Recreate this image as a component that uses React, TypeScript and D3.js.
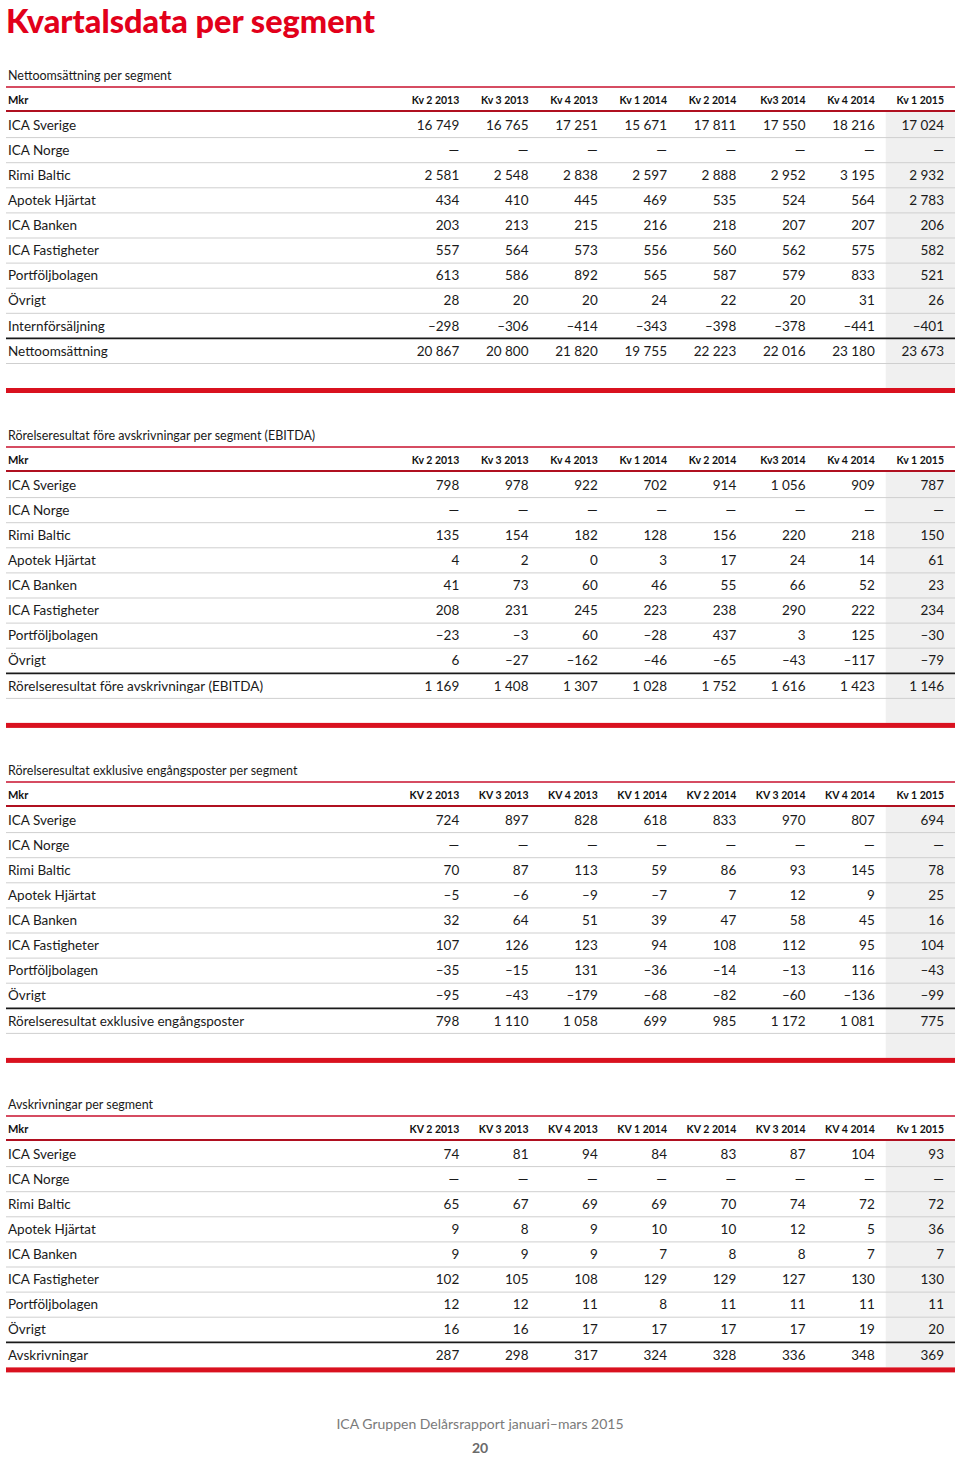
import React from "react";
import * as d3 from "d3";

const quartersA = ["Kv 2 2013", "Kv 3 2013", "Kv 4 2013", "Kv 1 2014", "Kv 2 2014", "Kv3 2014", "Kv 4 2014", "Kv 1 2015"];
const quartersB = ["KV 2 2013", "KV 3 2013", "KV 4 2013", "KV 1 2014", "KV 2 2014", "KV 3 2014", "KV 4 2014", "Kv 1 2015"];

const segments = ["ICA Sverige", "ICA Norge", "Rimi Baltic", "Apotek Hjärtat", "ICA Banken", "ICA Fastigheter", "Portföljbolagen", "Övrigt"];

type Vals = (number | null)[];
const none: Vals = [null, null, null, null, null, null, null, null];

// Nettoomsättning
const salesRows: Vals[] = [
  [16749, 16765, 17251, 15671, 17811, 17550, 18216, 17024],
  none,
  [2581, 2548, 2838, 2597, 2888, 2952, 3195, 2932],
  [434, 410, 445, 469, 535, 524, 564, 2783],
  [203, 213, 215, 216, 218, 207, 207, 206],
  [557, 564, 573, 556, 560, 562, 575, 582],
  [613, 586, 892, 565, 587, 579, 833, 521],
  [28, 20, 20, 24, 22, 20, 31, 26],
  [-298, -306, -414, -343, -398, -378, -441, -401],
];
const salesTotal = [20867, 20800, 21820, 19755, 22223, 22016, 23180, 23673];

// EBITDA
const ebitdaRows: Vals[] = [
  [798, 978, 922, 702, 914, 1056, 909, 787],
  none,
  [135, 154, 182, 128, 156, 220, 218, 150],
  [4, 2, 0, 3, 17, 24, 14, 61],
  [41, 73, 60, 46, 55, 66, 52, 23],
  [208, 231, 245, 223, 238, 290, 222, 234],
  [-23, -3, 60, -28, 437, 3, 125, -30],
  [6, -27, -162, -46, -65, -43, -117, -79],
];
const ebitdaTotal = [1169, 1408, 1307, 1028, 1752, 1616, 1423, 1146];

// Rörelseresultat exkl. engångsposter
const ebitRows: Vals[] = [
  [724, 897, 828, 618, 833, 970, 807, 694],
  none,
  [70, 87, 113, 59, 86, 93, 145, 78],
  [-5, -6, -9, -7, 7, 12, 9, 25],
  [32, 64, 51, 39, 47, 58, 45, 16],
  [107, 126, 123, 94, 108, 112, 95, 104],
  [-35, -15, 131, -36, -14, -13, 116, -43],
  [-95, -43, -179, -68, -82, -60, -136, -99],
];
const ebitTotal = [798, 1110, 1058, 699, 985, 1172, 1081, 775];

// Avskrivningar
const deprRows: Vals[] = [
  [74, 81, 94, 84, 83, 87, 104, 93],
  none,
  [65, 67, 69, 69, 70, 74, 72, 72],
  [9, 8, 9, 10, 10, 12, 5, 36],
  [9, 9, 9, 7, 8, 8, 7, 7],
  [102, 105, 108, 129, 129, 127, 130, 130],
  [12, 12, 11, 8, 11, 11, 11, 11],
  [16, 16, 17, 17, 17, 17, 19, 20],
];
const deprTotal = [287, 298, 317, 324, 328, 336, 348, 369];

const RED = "#d9111f";
const FONT = "Lato, 'Open Sans', sans-serif";

const fmt = d3
  .formatLocale({ decimal: ",", thousands: "\u00a0", grouping: [3], currency: ["", ""], minus: "\u2013" })
  .format(",d");

const ROW_H = 25.1;

const Table = ({ top, title, headers, labels, rows, totalLabel, total, tail }) => {
  const allLabels = [...labels, totalLabel];
  const allRows = [...rows, total];
  const x = d3.scaleBand().domain(headers).range([401, 955]);
  const y = d3
    .scaleBand()
    .domain(allLabels)
    .range([top + 36.5, top + 36.5 + ROW_H * allLabels.length]);
  const lastBottom = y(totalLabel) + ROW_H;
  const barTop = lastBottom + tail;
  const lastQ = headers[headers.length - 1];

  return (
    <g fontFamily={FONT}>
      <rect x={x(lastQ)} y={top + 35} width={x.bandwidth()} height={barTop - top - 35} fill="#f0f0f0" />
      <text x={8} y={top} dy="0.35em" fontSize={12.5} fill="#1a1a1a">{title}</text>
      <line x1={6} x2={955} y1={top + 11} y2={top + 11} stroke="#c8102e" strokeWidth={1.6} />
      <text x={8} y={top + 24} dy="0.35em" fontSize={11} fontWeight={700} fill="#111">Mkr</text>
      {headers.map((h) => (
        <text key={h} x={x(h) + x.bandwidth() - 11} y={top + 24} dy="0.35em" fontSize={10.5} fontWeight={700} textAnchor="end" fill="#111">
          {h}
        </text>
      ))}
      <line x1={6} x2={955} y1={top + 35} y2={top + 35} stroke="#b01020" strokeWidth={1.8} />
      {allLabels.map((lab, i) => {
        const yc = y(lab) + ROW_H / 2;
        const isTotal = lab === totalLabel;
        return (
          <g key={lab}>
            {i > 0 && (
              <line
                x1={6}
                x2={955}
                y1={y(lab)}
                y2={y(lab)}
                stroke={isTotal ? "#1a1a1a" : "#cfcfcf"}
                strokeWidth={isTotal ? 1.8 : 1}
              />
            )}
            <text x={8} y={yc} dy="0.35em" fontSize={13.5} fill="#1a1a1a">{lab}</text>
            {allRows[i].map((v, j) => (
              <text
                key={j}
                x={x(headers[j]) + x.bandwidth() - 11}
                y={yc}
                dy="0.35em"
                fontSize={13.5}
                textAnchor="end"
                fill="#1a1a1a"
              >
                {v === null ? "\u2014" : fmt(v)}
              </text>
            ))}
          </g>
        );
      })}
      {tail > 0 && <line x1={6} x2={955} y1={lastBottom} y2={lastBottom} stroke="#cfcfcf" strokeWidth={1} />}
      <rect x={6} y={barTop} width={949} height={5} fill={RED} />
    </g>
  );
};

export default function App() {
  return (
    <svg width={960} height={1457} style={{ position: "absolute", left: 0, top: 0, background: "#fff" }}>
      <rect width={960} height={1457} fill="#fff" />
      <text
        x={6}
        y={33}
        fontFamily={FONT}
        fontSize={33}
        fontWeight={900}
        fill="#e2001a"
        textLength={369}
        lengthAdjust="spacingAndGlyphs"
      >
        Kvartalsdata per segment
      </text>
      <Table
        top={76}
        title="Nettoomsättning per segment"
        headers={quartersA}
        labels={[...segments, "Internförsäljning"]}
        rows={salesRows}
        totalLabel="Nettoomsättning"
        total={salesTotal}
        tail={24.5}
      />
      <Table
        top={436}
        title="Rörelseresultat före avskrivningar per segment (EBITDA)"
        headers={quartersA}
        labels={segments}
        rows={ebitdaRows}
        totalLabel="Rörelseresultat före avskrivningar (EBITDA)"
        total={ebitdaTotal}
        tail={24.5}
      />
      <Table
        top={771}
        title="Rörelseresultat exklusive engångsposter per segment"
        headers={quartersB}
        labels={segments}
        rows={ebitRows}
        totalLabel="Rörelseresultat exklusive engångsposter"
        total={ebitTotal}
        tail={24.5}
      />
      <Table
        top={1105}
        title="Avskrivningar per segment"
        headers={quartersB}
        labels={segments}
        rows={deprRows}
        totalLabel="Avskrivningar"
        total={deprTotal}
        tail={0}
      />
      <text x={480} y={1424} dy="0.35em" textAnchor="middle" fontFamily={FONT} fontSize={14} fill="#7a7a7a">
        ICA Gruppen Delårsrapport januari–mars 2015
      </text>
      <text x={480} y={1448} dy="0.35em" textAnchor="middle" fontFamily={FONT} fontSize={14} fontWeight={700} fill="#6a6a6a">
        20
      </text>
    </svg>
  );
}
